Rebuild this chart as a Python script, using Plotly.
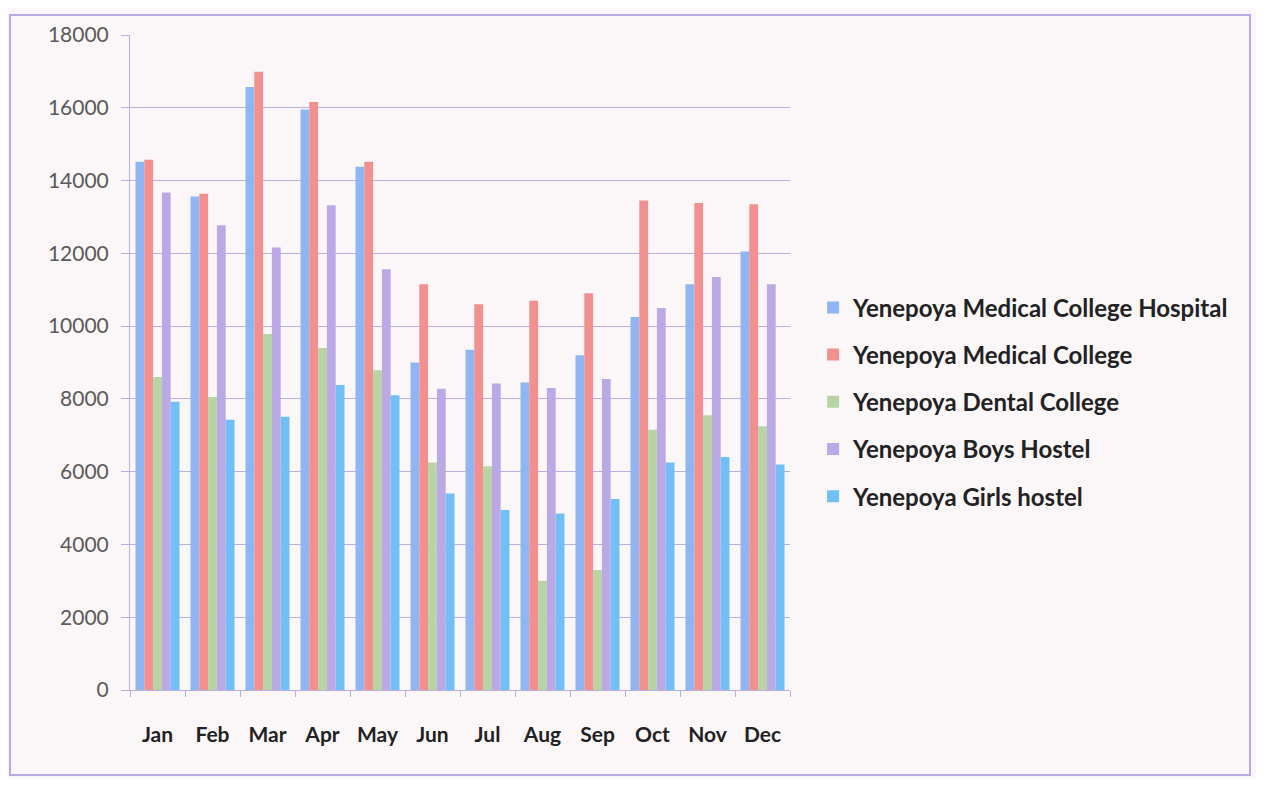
import plotly.graph_objects as go

months = ["Jan", "Feb", "Mar", "Apr", "May", "Jun", "Jul", "Aug", "Sep", "Oct", "Nov", "Dec"]
series_names = [
    "Yenepoya Medical College Hospital",
    "Yenepoya Medical College",
    "Yenepoya Dental College",
    "Yenepoya Boys Hostel",
    "Yenepoya Girls hostel",
]
hospital = [14520, 13560, 16570, 15950, 14380, 9000, 9350, 8450, 9200, 10250, 11150, 12050]
college = [14570, 13640, 16990, 16160, 14520, 11150, 10600, 10700, 10900, 13450, 13380, 13350]
dental = [8600, 8050, 9780, 9400, 8790, 6250, 6150, 3000, 3300, 7150, 7550, 7250]
boys = [13670, 12770, 12160, 13320, 11560, 8280, 8420, 8300, 8550, 10500, 11350, 11150]
girls = [7920, 7430, 7510, 8380, 8100, 5400, 4950, 4850, 5250, 6250, 6400, 6200]
colors = ["#8fb6f2", "#f29090", "#b8d4a4", "#bba9e6", "#70bff5"]

all_values = [hospital, college, dental, boys, girls]

fig = go.Figure()
for i, (name, vals) in enumerate(zip(series_names, all_values)):
    fig.add_trace(go.Bar(
        x=months, y=vals, name=name, marker_color=colors[i],
        marker_line_width=0, legendgroup=f"g{i}",
    ))

W, H = 1248, 771
L, R, T, B = 122, 466, 27, 89
pw, ph = W - L - R, H - T - B

grid_col = "#b9aee0"
fig.update_layout(
    barmode="group",
    bargap=0.2,
    bargroupgap=0,
    width=W,
    height=H,
    paper_bgcolor="#fbf6f8",
    plot_bgcolor="#fbf6f8",
    margin=dict(l=L, r=R, t=T, b=B),
    font=dict(family="Lato, Open Sans, sans-serif"),
    legend=dict(
        x=1.035, y=0.44, xanchor="left", yanchor="middle",
        font=dict(size=24, color="#222222", family="Lato, sans-serif", weight="bold"),
        tracegroupgap=13, bgcolor="rgba(0,0,0,0)", itemwidth=30,
    ),
    showlegend=True,
)
fig.update_yaxes(
    range=[0, 18000], dtick=2000, tickformat="d",
    showgrid=True, gridcolor=grid_col, gridwidth=1,
    showline=True, linecolor=grid_col, linewidth=1,
    ticks="outside", ticklen=8, tickcolor=grid_col,
    tickfont=dict(size=21, color="#5a5a5a"),
    ticklabelstandoff=8,
    zeroline=False,
)
fig.update_xaxes(
    showline=True, linecolor=grid_col, linewidth=1,
    ticks="outside", tickson="boundaries", ticklen=6, tickcolor=grid_col,
    tickfont=dict(size=21, color="#222222", weight="bold"),
    ticklabelstandoff=26,
)
x0 = (2 - L) / pw
x1 = (1242 - L) / pw
y1 = (T + ph - 7) / ph
y0 = (T + ph - 767) / ph
fig.add_shape(
    type="rect", xref="paper", yref="paper",
    x0=x0, x1=x1, y0=y0, y1=y1,
    line=dict(color="#b7a9e3", width=2), fillcolor="rgba(0,0,0,0)", layer="below",
)
fig.write_html("out.html")
